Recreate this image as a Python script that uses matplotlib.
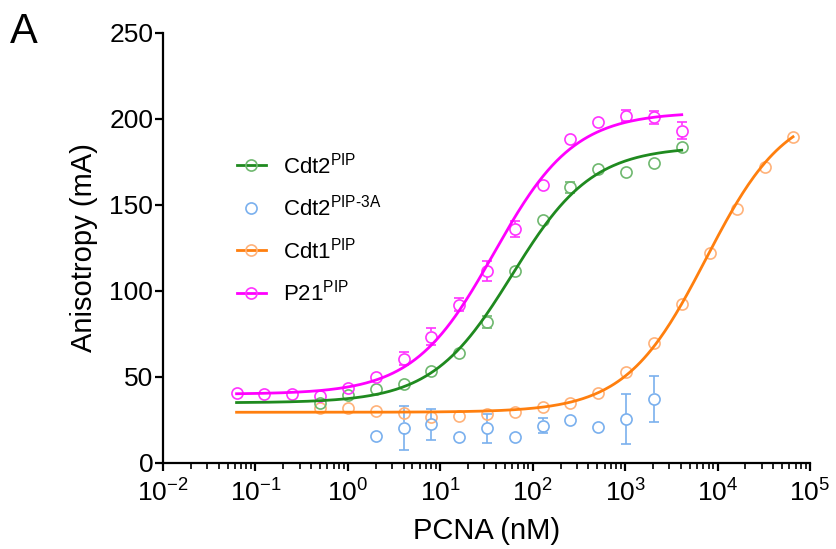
import numpy as np
import matplotlib
matplotlib.use("Agg")
import matplotlib.pyplot as plt
from matplotlib.lines import Line2D
from matplotlib.ticker import LogLocator, NullFormatter

plt.rcParams["font.family"] = ["Liberation Sans", "DejaVu Sans"]
plt.rcParams["mathtext.fontset"] = "custom"
plt.rcParams["mathtext.rm"] = "Liberation Sans"
plt.rcParams["mathtext.it"] = "Liberation Sans:italic"
plt.rcParams["mathtext.default"] = "regular"

# PCNA concentrations (nM), two-fold dilution series
conc_cdt2 = [0.5, 1, 2, 4, 8, 16, 32, 64, 128, 256, 512, 1024, 2048, 4096]
aniso_cdt2 = [35.0, 39.5, 42.8, 45.7, 53.7, 64.1, 82.2, 111.6, 141.3, 160.3, 170.9, 169.0, 174.6, 183.9]
err_cdt2 = [1.5, 1.0, 1.0, 1.0, 1.0, 1.5, 3.5, 3.1, 1.5, 3.3, 3.1, 3.1, 1.5, 1.5]

conc_cdt2_3a = [2, 4, 8, 16, 32, 64, 128, 256, 512, 1024, 2048]
aniso_cdt2_3a = [15.9, 20.5, 22.5, 15.3, 20.2, 15.3, 21.7, 25.0, 21.1, 25.4, 37.2]
err_cdt2_3a = [2.3, 12.8, 9.0, 1.5, 8.5, 3.1, 4.5, 2.9, 3.1, 14.5, 13.5]

conc_cdt1 = [0.5, 1, 2, 4, 8, 16, 32, 64, 128, 256, 512, 1024, 2048, 4096,
             8192, 16384, 32768, 65536]
aniso_cdt1 = [32.0, 32.0, 30.2, 29.0, 27.0, 27.3, 28.5, 29.7, 32.6, 35.0, 40.7,
              53.0, 69.8, 92.4, 122.0, 147.7, 172.0, 189.5]
err_cdt1 = [1.0] * 17 + [3.0]

conc_p21 = [0.0625, 0.125, 0.25, 0.5, 1, 2, 4, 8, 16, 32, 64, 128, 256, 512,
            1024, 2048, 4096]
aniso_p21 = [40.9, 40.0, 40.0, 39.1, 43.8, 50.2, 60.5, 73.4, 91.9, 111.6, 136.0,
             161.6, 188.4, 198.0, 202.0, 201.0, 193.2]
err_p21 = [1.0, 1.0, 1.0, 1.0, 2.0, 1.5, 3.8, 4.8, 3.8, 5.8, 4.8, 1.5, 1.5, 1.5,
           3.3, 3.9, 4.8]

# Four-parameter logistic fits: bottom, top, EC50 (nM), Hill slope
fit_cdt2 = [35.0, 184.0, 60.0, 1.0]
fit_cdt1 = [29.5, 208.0, 7500.0, 1.0]
fit_p21 = [40.0, 204.0, 38.0, 1.0]

fit_range_cdt2 = [0.0625, 4096]
fit_range_cdt1 = [0.0625, 65536]
fit_range_p21 = [0.0625, 4096]

labels = ["Cdt2$^{PIP}$", "Cdt2$^{PIP\\text{-}3A}$", "Cdt1$^{PIP}$", "P21$^{PIP}$"]

green_line, green_mk = "#1f8a1f", "#6fb86f"
blue_mk = "#7ab0ee"
orange_line, orange_mk = "#ff7f0e", "#ffb27a"
mag_line, mag_mk = "#ff00ff", "#ff33ff"

W, H, DPI = 837, 549, 100
fig = plt.figure(figsize=(W / DPI, H / DPI), dpi=DPI)
ax = fig.add_axes([163 / W, 1 - 463 / H, (810 - 163) / W, (463 - 33) / H])

ax.set_xscale("log")
ax.set_xlim(1e-2, 1e5)
ax.set_ylim(0, 250)

MS = 8.0  # marker size in points
marker_r_px = MS / 2 * DPI / 72
gap = marker_r_px * 250 / (463 - 33)


def logistic(x, p):
    b, t, ec, h = p
    return b + (t - b) / (1 + (ec / x) ** h)


def draw_series(x, y, e, mk_color, fit=None, fit_range=None, line_color=None):
    x = np.asarray(x, float)
    y = np.asarray(y, float)
    e = np.asarray(e, float)
    show = e > gap
    ax.vlines(x[show], y[show] + gap, y[show] + e[show], color=mk_color, lw=1.2, zorder=2)
    ax.vlines(x[show], y[show] - e[show], y[show] - gap, color=mk_color, lw=1.2, zorder=2)
    for sgn in (1, -1):
        ax.plot(x[show], y[show] + sgn * e[show], ls="none", marker="_", ms=7.5,
                mew=1.2, color=mk_color, zorder=2)
    ax.plot(x, y, ls="none", marker="o", ms=MS, mfc="none", mec=mk_color, mew=1.2, zorder=3)
    if fit is not None:
        xs = np.logspace(np.log10(fit_range[0]), np.log10(fit_range[1]), 300)
        ax.plot(xs, logistic(xs, fit), color=line_color, lw=2.0, zorder=4)


draw_series(conc_cdt1, aniso_cdt1, err_cdt1, orange_mk, fit_cdt1, fit_range_cdt1, orange_line)
draw_series(conc_cdt2_3a, aniso_cdt2_3a, err_cdt2_3a, blue_mk)
draw_series(conc_cdt2, aniso_cdt2, err_cdt2, green_mk, fit_cdt2, fit_range_cdt2, green_line)
draw_series(conc_p21, aniso_p21, err_p21, mag_mk, fit_p21, fit_range_p21, mag_line)

for side in ("top", "right"):
    ax.spines[side].set_visible(False)
for side in ("left", "bottom"):
    ax.spines[side].set_linewidth(1.6)

ax.set_yticks([0, 50, 100, 150, 200, 250])
ax.xaxis.set_major_locator(LogLocator(base=10, numticks=20))
ax.xaxis.set_minor_locator(LogLocator(base=10, subs=np.arange(2, 10), numticks=20))
ax.xaxis.set_minor_formatter(NullFormatter())
ax.tick_params(axis="y", which="major", direction="out", length=6, width=1.6,
               labelsize=19, pad=1)
ax.tick_params(axis="x", which="major", direction="out", length=6, width=1.6,
               labelsize=19, pad=6)
ax.tick_params(axis="x", which="minor", direction="out", length=4, width=1.2)

ax.set_xlabel("PCNA (nM)", fontsize=21, labelpad=7)
ax.set_ylabel("Anisotropy (mA)", fontsize=21, labelpad=8)

handles = [
    Line2D([], [], color=green_line, lw=2.0, marker="o", ms=MS, mfc="none", mec=green_mk, mew=1.2),
    Line2D([], [], ls="none", marker="o", ms=MS, mfc="none", mec=blue_mk, mew=1.2),
    Line2D([], [], color=orange_line, lw=2.0, marker="o", ms=MS, mfc="none", mec=orange_mk, mew=1.2),
    Line2D([], [], color=mag_line, lw=2.0, marker="o", ms=MS, mfc="none", mec=mag_mk, mew=1.2),
]
fig.legend(handles, labels, loc="center left", bbox_to_anchor=(237 / W, 1 - 229 / H),
           frameon=False, fontsize=16, handlelength=1.3, handletextpad=0.75,
           labelspacing=0.75, borderpad=0, borderaxespad=0)

fig.text(10 / W, 1 - 12 / H, "A", fontsize=30, va="top", ha="left")

fig.savefig("out.png", dpi=DPI)
